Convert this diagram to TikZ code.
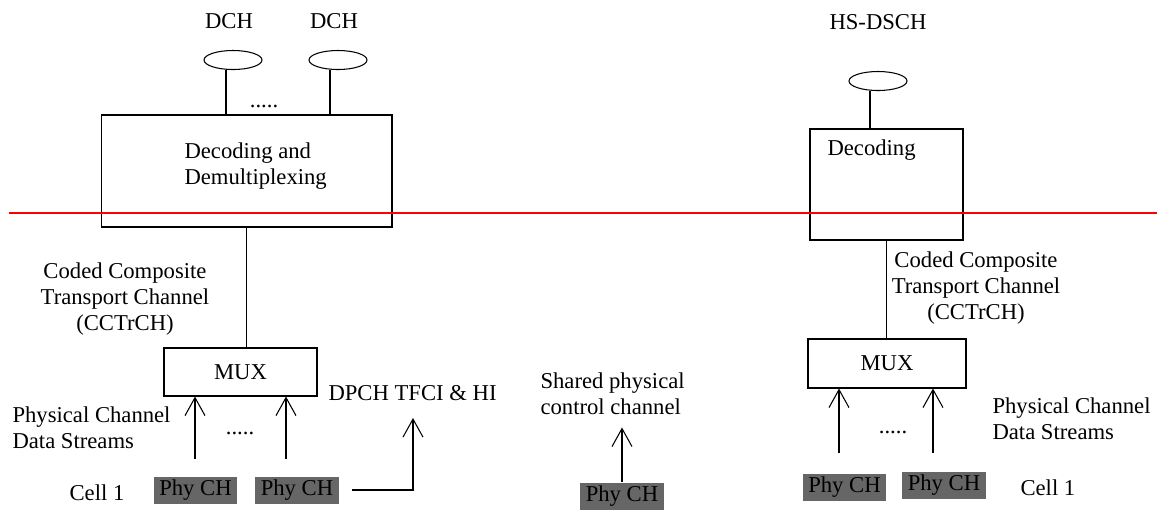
\documentclass[tikz,border=0pt]{standalone}
\usepackage{fontspec}
\setmainfont{Liberation Serif}
\definecolor{phygray}{HTML}{666666}
\usetikzlibrary{arrows.meta, shapes.geometric, positioning}
\tikzset{
  chan/.style={draw, ellipse, minimum width=1.16cm, minimum height=0.38cm, inner sep=0pt},
  blk/.style={draw, rectangle, inner sep=0pt},
  phych/.style={fill=phygray, minimum width=1.68cm, minimum height=0.54cm, inner sep=0pt},
  uparr/.style={-{Straight Barb[length=3.6mm,width=4mm]}},
}

\begin{document}
\begin{tikzpicture}[x=0.02cm, y=-0.02cm, line width=0.6pt,
  every node/.style={font=\fontsize{12.9}{14.8}\selectfont, inner sep=0pt}]
\useasboundingbox (0,0) rectangle (1157,512);
% left branch: DCHs
\node[chan] (dchA) at (233,60) {};
\node[chan] (dchB) at (338,60) {};
\node (dchAlbl) at (229,21) {DCH};
\node (dchBlbl) at (334,21) {DCH};
\node[blk, minimum width=5.82cm, minimum height=2.24cm] (dec) at (246.5,171) {};
\node[blk, minimum width=3.06cm, minimum height=0.96cm] (mux) at (240.5,372) {MUX};
\draw ([xshift=-0.14cm]dchA.south) -- ([xshift=-0.14cm]dchA.south |- dec.north);
\draw ([xshift=-0.16cm]dchB.south) -- ([xshift=-0.16cm]dchB.south |- dec.north);
\draw (dec.south) -- (dec.south |- mux.north);
\node[phych] (phyA) at (195.5,490) {Phy CH};
\node[phych] (phyB) at (297,490) {Phy CH};
\coordinate (inA) at (195,459);
\coordinate (inB) at (286,459);
\draw[uparr] (inA) -- (inA |- mux.south);
\draw[uparr] (inB) -- (inB |- mux.south);
\coordinate (tfci) at (413,418);
\draw[uparr] ([xshift=0.24cm]phyB.east) -| (tfci);
% right branch: HS-DSCH
\node[chan] (hs) at (878,81) {};
\node (hslbl) at (878,22) {HS-DSCH};
\node[blk, minimum width=3.06cm, minimum height=2.22cm] (hsdec) at (886.5,184.5) {};
\node[blk, minimum width=3.16cm, minimum height=0.98cm] (hsmux) at (887,363.5) {MUX};
\draw ([xshift=-0.16cm]hs.south) -- ([xshift=-0.16cm]hs.south |- hsdec.north);
\draw (hsdec.south) -- (hsdec.south |- hsmux.north);
\node[phych] (phyD) at (844.5,487.5) {Phy CH};
\node[phych] (phyE) at (944,485.5) {Phy CH};
\coordinate (inD) at (839,453);
\coordinate (inE) at (933,453);
\draw[uparr] (inD) -- (inD |- hsmux.south);
\draw[uparr] (inE) -- (inE |- hsmux.south);
% shared control channel
\node[phych] (phyC) at (622,496.5) {Phy CH};
\draw[uparr] (phyC.north) -- ++(0,-55);
% layer boundary
\draw[red] (9,213) -- (1157,213);
\path (264,106) node (dotsA) {.....}
      (240,433) node (dotsB) {.....}
      (893,432) node (dotsC) {.....}
      (184,166) node[anchor=west, align=left] (declbl) {Decoding and\\Demultiplexing}
      (827,150) node[anchor=west] (hsdeclbl) {Decoding}
      (125,299) node[align=center] (cctrA) {Coded Composite\\Transport Channel\\(CCTrCH)}
      (976,288) node[align=center] (cctrB) {Coded Composite\\Transport Channel\\(CCTrCH)}
      (12,428) node[anchor=west, align=left] (pcdsA) {Physical Channel\\Data Streams}
      (992,419) node[anchor=west, align=left] (pcdsB) {Physical Channel\\Data Streams}
      (328,393) node[anchor=west] (tfcilbl) {DPCH TFCI \& HI}
      (540,394) node[anchor=west, align=left] (shlbl) {Shared physical\\control channel}
      (97,493) node (cellA) {Cell 1}
      (1020,488) node[anchor=west] (cellB) {Cell 1};
\end{tikzpicture}
\end{document}
